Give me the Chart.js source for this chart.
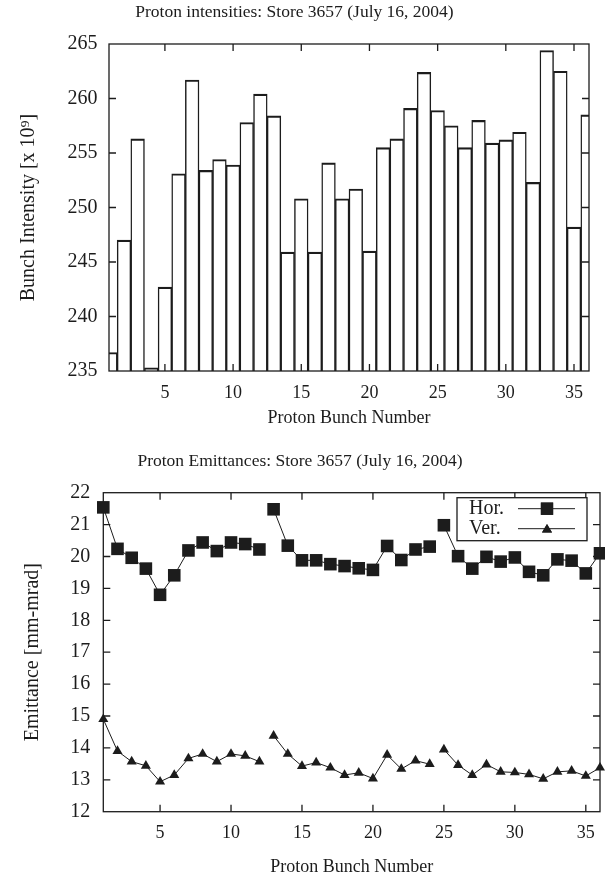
<!DOCTYPE html>
<html><head><meta charset="utf-8">
<script src="https://cdn.jsdelivr.net/npm/chart.js@4/dist/chart.umd.min.js"></script>
<style>
html,body{margin:0;padding:0;background:#fff;}
#wrap{position:relative;width:605px;height:882px;background:#fff;}
#c1{position:absolute;left:0;top:0;}
#c2{position:absolute;left:0;top:445px;}
</style></head><body>
<div id="wrap"><canvas id="c1" width="605" height="445"></canvas><canvas id="c2" width="605" height="437"></canvas></div>
<script>
// ---- data ----
const bunches = [1,2,3,4,5,6,7,8,9,10,11,12,13,14,15,16,17,18,19,20,21,22,23,24,25,26,27,28,29,30,31,32,33,34,35,36];
const intensity = [236.7,247.0,256.3,235.3,242.7,253.1,261.7,253.4,254.4,253.9,257.8,260.4,
                   258.4,245.9,250.8,245.9,254.1,250.8,251.7,246.0,255.5,256.3,259.1,262.4,
                   258.9,257.5,255.5,258.0,255.9,256.2,256.9,252.3,264.4,262.5,248.2,258.5];
const horEmittance = [21.54,20.24,19.96,19.62,18.80,19.41,20.19,20.44,20.17,20.44,20.39,20.22,
                      21.48,20.34,19.88,19.88,19.76,19.70,19.63,19.58,20.33,19.89,20.22,20.31,
                      20.98,20.01,19.62,19.99,19.84,19.97,19.52,19.41,19.91,19.87,19.47,20.10];
const verEmittance = [14.90,13.90,13.57,13.44,12.94,13.15,13.67,13.81,13.57,13.81,13.75,13.57,
                      14.38,13.81,13.43,13.54,13.38,13.15,13.22,13.04,13.78,13.34,13.60,13.49,
                      13.95,13.46,13.15,13.48,13.25,13.23,13.17,13.03,13.25,13.28,13.12,13.38];
const trainStarts = [13, 25];           // first bunch of each new train (line breaks before these)
const xTickValues = [5,10,15,20,25,30,35];
const seriesNames = ['Hor.', 'Ver.'];
const titleTop = 'Proton intensities: Store 3657 (July 16, 2004)';
const titleBottom = 'Proton Emittances: Store 3657 (July 16, 2004)';
const xAxisTitle = 'Proton Bunch Number';
const yTitleTop = 'Bunch Intensity [x 10\u2079]';
const yTitleBottom = 'Emittance [mm-mrad]';

// ---- styles ----
const serif = "'Liberation Serif', 'DejaVu Serif', serif";
const ink = '#1c1c1c';

const framePlugin = {
  id: 'frame',
  beforeDatasetsDraw(chart) {
    const {ctx, chartArea: a, scales: {x, y}} = chart;
    ctx.save();
    ctx.strokeStyle = ink;
    ctx.lineWidth = 1.3;
    ctx.strokeRect(a.left, a.top, a.right - a.left, a.bottom - a.top);
    const L = 7;
    ctx.beginPath();
    x.ticks.forEach(t => {
      const px = x.getPixelForValue(t.value);
      ctx.moveTo(px, a.bottom); ctx.lineTo(px, a.bottom - L);
      ctx.moveTo(px, a.top); ctx.lineTo(px, a.top + L);
    });
    y.ticks.forEach(t => {
      if (t.value <= y.min || t.value >= y.max) return;
      const py = y.getPixelForValue(t.value);
      ctx.moveTo(a.left, py); ctx.lineTo(a.left + L, py);
      ctx.moveTo(a.right, py); ctx.lineTo(a.right - L, py);
    });
    ctx.stroke();
    ctx.restore();
  }
};

const legendPlugin = {
  id: 'boxLegend',
  afterDatasetsDraw(chart) {
    const {ctx, chartArea: a} = chart;
    const w = 130, h = 43;
    const bx = a.right - 13 - w, by = a.top + 5;
    ctx.save();
    ctx.fillStyle = '#fff';
    ctx.fillRect(bx, by, w, h);
    ctx.strokeStyle = ink; ctx.lineWidth = 1.3;
    ctx.strokeRect(bx, by, w, h);
    ctx.font = '20px ' + serif;
    ctx.fillStyle = ink;
    ctx.textBaseline = 'middle';
    const styles = ['rect', 'triangle'];
    const radii = [8.7, 5.8];
    seriesNames.forEach((name, i) => {
      const cy = by + 11 + i * 20;
      ctx.fillText(name, bx + 12, cy);
      ctx.beginPath();
      ctx.lineWidth = 1;
      ctx.moveTo(bx + 61, cy); ctx.lineTo(bx + 118, cy);
      ctx.stroke();
      Chart.helpers.drawPoint(ctx, {pointStyle: styles[i], radius: radii[i], borderWidth: 0}, bx + 90, cy + (i === 1 ? 1 : 0));
      ctx.fill();
    });
    ctx.restore();
  }
};

function xScale(min, max, height, titleBottomPad) {
  return {
    type: 'linear', min, max, offset: false,
    grid: {display: false, drawTicks: false, offset: false}, border: {display: false},
    ticks: {color: ink, font: {family: serif, size: 18}, padding: 11, maxRotation: 0, autoSkip: false},
    afterBuildTicks: s => { s.ticks = xTickValues.map(v => ({value: v})); },
    afterFit: s => { s.height = height; s.paddingLeft = 0; s.paddingRight = 0; },
    title: {display: true, text: xAxisTitle, color: ink, font: {family: serif, size: 18}, padding: {top: 0, bottom: titleBottomPad}}
  };
}

// ---- top chart: bunch intensities ----
new Chart(document.getElementById('c1'), {
  type: 'bar',
  data: {
    datasets: [{
      data: bunches.map((b, i) => ({x: b, y: intensity[i]})),
      backgroundColor: 'rgba(0,0,0,0)',
      borderColor: ink,
      borderWidth: {top: 1.5, left: 0.8, right: 0.8, bottom: 0},
      borderSkipped: 'bottom',
      barPercentage: 1, categoryPercentage: 1
    }]
  },
  options: {
    responsive: false, animation: false, events: [],
    layout: {autoPadding: false, padding: {left: 0, right: 16, top: 0, bottom: 0}},
    plugins: {
      legend: {display: false}, tooltip: {enabled: false},
      title: {display: true, text: titleTop, color: ink, font: {family: serif, size: 17.5, weight: 'normal'}, padding: {top: 2, bottom: 21}}
    },
    scales: {
      x: xScale(0.9, 36.1, 74, 16),
      y: {
        min: 235, max: 265,
        grid: {display: false, drawTicks: false}, border: {display: false},
        ticks: {stepSize: 5, color: ink, font: {family: serif, size: 20}, padding: 11.5},
        afterFit: s => { s.width = 109; },
        title: {display: true, text: yTitleTop, color: ink, font: {family: serif, size: 20}, padding: {top: 17, bottom: 0}}
      }
    }
  },
  plugins: [framePlugin]
});

// ---- bottom chart: emittances ----
const breakSeg = ctx => trainStarts.includes(bunches[ctx.p1DataIndex]) ? 'rgba(0,0,0,0)' : ink;
new Chart(document.getElementById('c2'), {
  type: 'line',
  data: {
    datasets: [
      {label: seriesNames[0], data: bunches.map((b, i) => ({x: b, y: horEmittance[i]})),
       borderColor: ink, borderWidth: 1, pointStyle: 'rect', pointRadius: 8.9, pointBorderWidth: 0,
       pointBackgroundColor: ink, tension: 0, clip: false, segment: {borderColor: breakSeg}},
      {label: seriesNames[1], data: bunches.map((b, i) => ({x: b, y: verEmittance[i]})),
       borderColor: ink, borderWidth: 1, pointStyle: 'triangle', pointRadius: 5.8, pointBorderWidth: 0,
       pointBackgroundColor: ink, tension: 0, clip: false, segment: {borderColor: breakSeg}}
    ]
  },
  options: {
    responsive: false, animation: false, events: [],
    layout: {autoPadding: false, padding: {left: 0, right: 5, top: 0, bottom: 0}},
    plugins: {
      legend: {display: false}, tooltip: {enabled: false},
      title: {display: true, text: titleBottom, color: ink, font: {family: serif, size: 17.5, weight: 'normal'}, padding: {top: 5.5, bottom: 21.2}}
    },
    scales: {
      x: xScale(1, 36, 70.3, 3.7),
      y: {
        min: 12, max: 22,
        grid: {display: false, drawTicks: false}, border: {display: false},
        ticks: {stepSize: 1, color: ink, font: {family: serif, size: 20}, padding: 13},
        afterFit: s => { s.width = 103.3; },
        title: {display: true, text: yTitleBottom, color: ink, font: {family: serif, size: 20}, padding: {top: 20.5, bottom: 0}}
      }
    }
  },
  plugins: [framePlugin, legendPlugin]
});
</script>
</body></html>
